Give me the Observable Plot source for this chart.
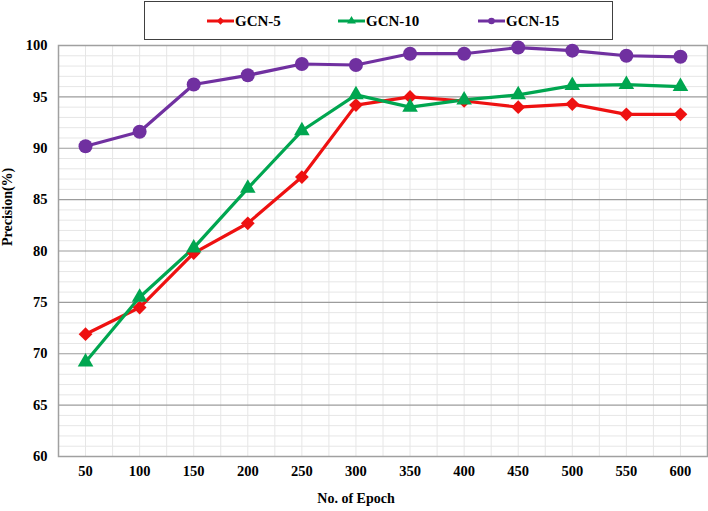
<!DOCTYPE html>
<html>
<head>
<meta charset="utf-8">
<script src="https://cdn.jsdelivr.net/npm/d3@7"></script>
<script src="https://cdn.jsdelivr.net/npm/@observablehq/plot@0.6"></script>
<style>
  html, body { margin: 0; padding: 0; background: #fff; }
  #wrap { position: relative; width: 708px; height: 511px; }
  #legend {
    position: absolute; left: 144px; top: 1px; width: 467px; height: 37px;
    border: 1.5px solid #404040; background: #fff; box-sizing: content-box;
    font-family: "Liberation Serif", "DejaVu Serif", serif; font-weight: bold; font-size: 15px;
  }
  .item { position: absolute; top: 10px; display: flex; align-items: center; height: 18px; }
  .item svg { margin-right: 1px; }
</style>
</head>
<body>
<div id="wrap">
  <div id="chart"></div>
  <div id="legend"></div>
</div>
<script>
const epochs = [50, 100, 150, 200, 250, 300, 350, 400, 450, 500, 550, 600];
const gcn5  = [71.9, 74.5, 79.8, 82.7, 87.2, 94.2, 95.0, 94.6, 94.0, 94.3, 93.3, 93.3];
const gcn10 = [69.2, 75.5, 80.3, 86.1, 91.7, 95.2, 94.0, 94.7, 95.2, 96.1, 96.2, 96.0];
const gcn15 = [90.2, 91.6, 96.2, 97.1, 98.2, 98.1, 99.2, 99.2, 99.8, 99.5, 99.0, 98.9];
const seriesNames = ["GCN-5", "GCN-10", "GCN-15"];
const seriesColors = ["#ee1111", "#00a650", "#7030a0"];
const seriesSymbols = ["diamond2", "triangle", "circle"];
const seriesR = [6.2, 5.8, 7];
const yTicks = [60, 65, 70, 75, 80, 85, 90, 95, 100];

const allSeries = [gcn5, gcn10, gcn15];
const rows = [];
allSeries.forEach((vals, si) => vals.forEach((v, i) => rows.push({series: seriesNames[si], epoch: epochs[i], value: v})));

const minorY = d3.range(61, 100).filter(v => v % 5 !== 0);
const majorY = yTicks.filter(v => v > 60 && v < 100);
const vLines = d3.range(50, 601, 25);

const font = '"Liberation Serif", "DejaVu Serif", serif';

const marks = [
  Plot.ruleY(minorY, {stroke: "#e6e6e6", strokeWidth: 1}),
  Plot.ruleX(vLines, {stroke: "#e6e6e6", strokeWidth: 1}),
  Plot.ruleY(majorY, {stroke: "#9c9c9c", strokeWidth: 1.2}),
  Plot.frame({stroke: "#a0a0a0", strokeWidth: 1.5}),
  Plot.axisY({ticks: yTicks, tickSize: 0, tickPadding: 11, label: null, fontSize: 14.5, fontWeight: "bold", fill: "#000"}),
  Plot.axisX({ticks: epochs, tickSize: 0, tickPadding: 9, label: null, fontSize: 14.5, fontWeight: "bold", fill: "#000", tickFormat: d => String(d)}),
  Plot.text(["Precision(%)"], {frameAnchor: "left", dx: -51, dy: -5, rotate: -90, fontSize: 14, fontWeight: "bold", fill: "#000", style: "letter-spacing: 0.8px"}),
  Plot.text(["No. of Epoch"], {frameAnchor: "bottom", dx: -27, dy: 46, fontSize: 14, fontWeight: "bold", fill: "#000"})
];
seriesNames.forEach((name, si) => {
  const data = rows.filter(d => d.series === name);
  marks.push(Plot.line(data, {x: "epoch", y: "value", stroke: seriesColors[si], strokeWidth: 3.2}));
});
seriesNames.forEach((name, si) => {
  const data = rows.filter(d => d.series === name);
  marks.push(Plot.dot(data, {x: "epoch", y: "value", fill: seriesColors[si], stroke: "none", symbol: seriesSymbols[si], r: seriesR[si]}));
});

const chart = Plot.plot({
  width: 708,
  height: 511,
  marginLeft: 58,
  marginRight: 1,
  marginTop: 45,
  marginBottom: 55,
  style: {fontFamily: font, background: "#fff", overflow: "visible"},
  x: {type: "linear", domain: [25, 625]},
  y: {domain: [60, 100]},
  marks
});
document.getElementById("chart").appendChild(chart);

// legend
const legend = document.getElementById("legend");
const itemLeft = [62, 193, 333];
seriesNames.forEach((name, si) => {
  const div = document.createElement("div");
  div.className = "item";
  div.style.left = itemLeft[si] + "px";
  const sym = d3.symbol().type([d3.symbolDiamond2, d3.symbolTriangle, d3.symbolCircle][si]).size(34);
  div.innerHTML = `<svg width="27" height="14"><line x1="0" x2="27" y1="7" y2="7" stroke="${seriesColors[si]}" stroke-width="3"/><path transform="translate(13.5,7)" d="${sym()}" fill="${seriesColors[si]}"/></svg><span>${name}</span>`;
  legend.appendChild(div);
});
</script>
</body>
</html>
